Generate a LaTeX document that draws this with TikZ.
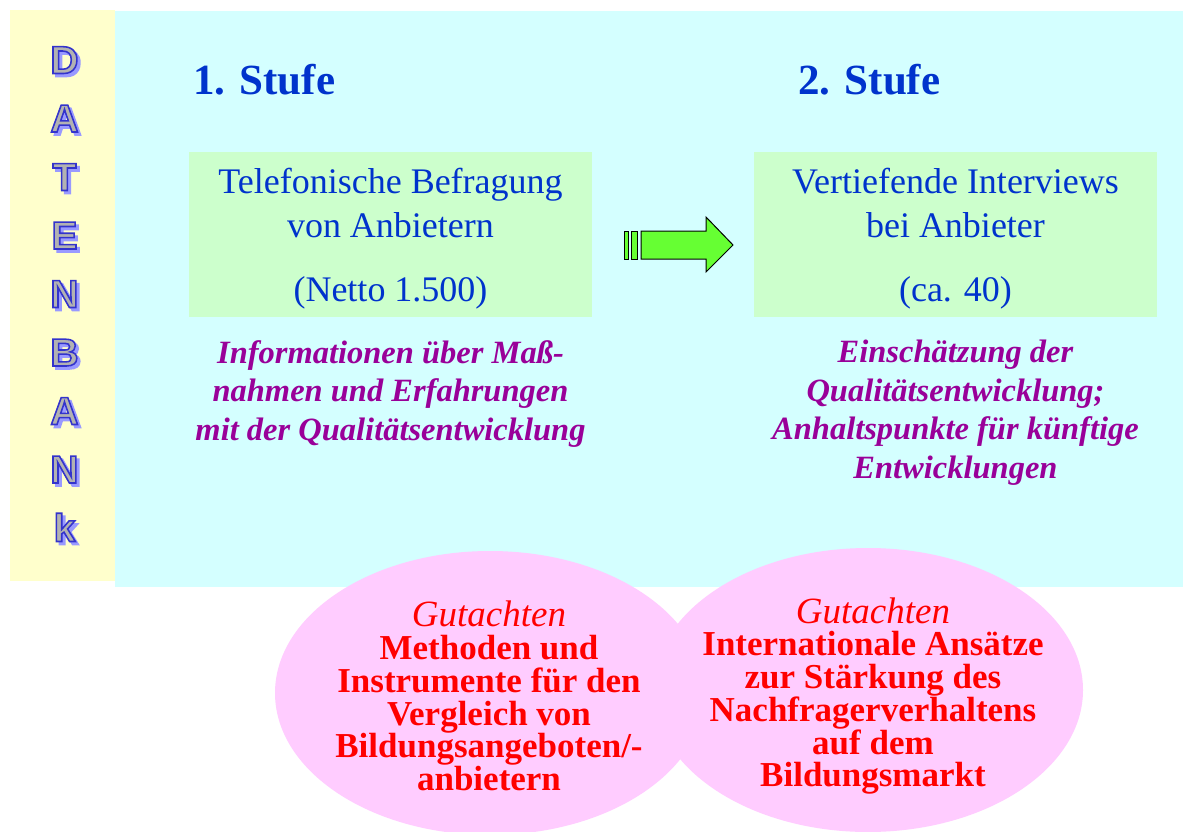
\documentclass[tikz,border=0pt]{standalone}
\usepackage{fontspec}
\setmainfont{Liberation Serif}
\newfontfamily\bankfont[FakeBold=4]{Liberation Sans Bold}
\usepackage{xcolor}
\usepackage{tikz}
\usetikzlibrary{shapes,positioning}

\definecolor{bankyellow}{HTML}{FFFFCC}
\definecolor{stufecyan}{HTML}{D4FFFF}
\definecolor{boxgreen}{HTML}{CCFFCC}
\definecolor{gutpink}{HTML}{FFCCFF}
\definecolor{stufeblue}{HTML}{0033CC}
\definecolor{notepurple}{HTML}{990099}
\definecolor{arrowgreen}{HTML}{66FF33}
\definecolor{shadowblue}{HTML}{9999FF}
\definecolor{lettergray}{HTML}{B2B2B2}

% gray letter with blue outline, light blue shadow
\newcommand{\bankchar}[1]{%
  \rlap{\kern3pt\raisebox{-3pt}{\textcolor{shadowblue}{#1}}}%
  {\color{lettergray}\special{pdf:code 0.2 0.2 0.8 RG}#1}}

\tikzset{
  stufehead/.style={anchor=base west, inner sep=0, text=stufeblue, font=\fontsize{43}{50}\selectfont\bfseries},
  greenbox/.style={rectangle, fill=boxgreen, minimum width=403pt, minimum height=165pt, inner sep=0, align=center, text=stufeblue, font=\fontsize{36}{44}\selectfont},
  notetext/.style={anchor=north, inner sep=0, align=center, text=notepurple, font=\fontsize{32.5}{38.5}\selectfont\bfseries\itshape},
  gutellipse/.style={ellipse, fill=gutpink, minimum width=430pt, minimum height=284pt, inner sep=0},
  guttext/.style={align=center, inner sep=0, text=red, font=\fontsize{35}{32.7}\selectfont\bfseries},
  bankletter/.style={anchor=base, inner sep=0, font=\bankfont\fontsize{39}{40}\selectfont},
  arrowbody/.style={fill=arrowgreen, draw=black, line width=1pt}
}

\begin{document}
\begin{tikzpicture}[x=1pt, y=-1pt, node distance=23pt]
    \useasboundingbox (0,0) rectangle (1183,832);
    \fill [white] (0,0) rectangle (1183,832);
    \fill [bankyellow] (10,10) rectangle (115,581);
    \fill [stufecyan] (115,11) rectangle (1183,587);

    % Datenbank
    \foreach \ch [count=\i from 0] in {D,A,T,E,N,B,A,N,k} {
        \node (letter\i) [bankletter] at (64.5, 73.5+58.5*\i) {\bankchar{\ch}};
    }

    \node (stufe1) [stufehead] at (193,95) {1. Stufe};
    \node (stufe2) [stufehead] at (798,95) {2. Stufe};

    \node (befragung) [greenbox] at (390.5,234.5) {\rule{0pt}{34pt}Telefonische Befragung\\von Anbietern\\[20pt](Netto 1.500)};
    \node (interviews) [greenbox] at (955.5,234.5) {\rule{0pt}{34pt}Vertiefende Interviews\\bei Anbieter\\[20pt](ca. 40)};

    \filldraw [arrowbody] (624,231) rectangle (628,259);
    \filldraw [arrowbody] (631,231) rectangle (637,259);
    \filldraw [arrowbody] (641,231) -- (706,231) -- (706,217) -- (733,245) -- (706,272) -- (706,259) -- (641,259) -- cycle;

    \node (massnahmen) [notetext, below=of befragung] {Informationen über Maß-\\nahmen und Erfahrungen\\mit der Qualitätsentwicklung};
    \node (einschaetzung) [notetext, below=of interviews] {Einschätzung der\\Qualitätsentwicklung;\\Anhaltspunkte für künftige\\Entwicklungen};

    \node (gutachten1) [gutellipse] at (490,693) {};
    \node (gutachten2) [gutellipse] at (868,690) {};
    \node (methoden) [guttext] at (489,696) {{\mdseries\itshape\fontsize{37}{32.7}\selectfont Gutachten}\\Methoden und\\Instrumente für den\\Vergleich von\\Bildungsangeboten/-\\anbietern};
    \node (ansaetze) [guttext] at (873,696) {{\mdseries\itshape\fontsize{37}{32.7}\selectfont Gutachten}\\Internationale Ansätze\\zur Stärkung des\\Nachfragerverhaltens\\auf dem\\Bildungsmarkt};
\end{tikzpicture}
\end{document}
